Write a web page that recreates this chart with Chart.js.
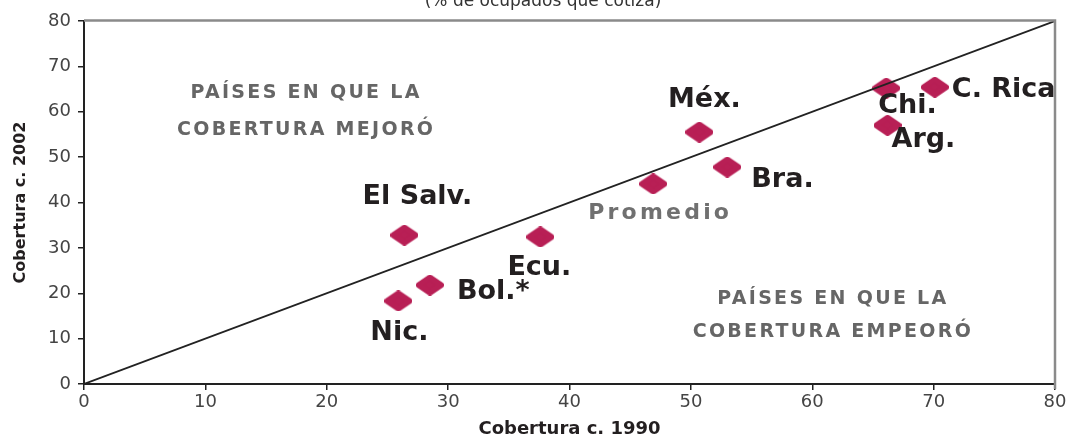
<!DOCTYPE html>
<html><head><meta charset="utf-8">
<script src="https://cdn.jsdelivr.net/npm/chart.js@4.4.1/dist/chart.umd.min.js"></script>
<style>html,body{margin:0;padding:0;background:#fff;}#wrap{width:1072px;height:441px;position:relative;}canvas{display:block;}</style>
</head><body><div id="wrap"><canvas id="c" width="1072" height="441" style="width:1072px;height:441px"></canvas></div>
<script>
// ---- data ----
const countries = ["El Salv.","Ecu.","Bol.*","Nic.","Promedio","Méx.","Bra.","Chi.","C. Rica","Arg."];
const coverage1990 = [26.4, 37.6, 28.5, 25.9, 46.9, 50.7, 53.0, 66.1, 70.1, 66.2];
const coverage2002 = [32.8, 32.4, 21.8, 18.3, 44.1, 55.5, 47.8, 65.2, 65.4, 57.0];
const axisMin = 0, axisMax = 80, axisStep = 10;
const diagonalEnds = [axisMin, axisMax];
const chartTitle = "(% de ocupados que cotiza)";
const xTitle = "Cobertura c. 1990";
const yTitle = "Cobertura c. 2002";
const regionTexts = [["PAÍSES EN QUE LA","COBERTURA MEJORÓ"],["PAÍSES EN QUE LA","COBERTURA EMPEORÓ"]];

// ---- layout / styles ----
const labelOffsets = [[13,-38,'center'],[-1,31,'center'],[27,7,'left'],[1,32,'center'],[-65,29,'left'],[5,-32,'center'],[24,13,'left'],[-8,18,'left'],[17,3,'left'],[4,15,'left']];
const regionAnchors = [[18.3,60.0,37],[61.7,15.1,33]];
const markerColor = '#B81F55';

function makeDiamond(w,h,color){
  const c=document.createElement('canvas'); c.width=w; c.height=h;
  const g=c.getContext('2d');
  g.fillStyle=color; g.strokeStyle=color; g.lineJoin='round'; g.lineWidth=6;
  const cx=w/2, cy=h/2, rx=w/2-3, ry=h/2-3;
  g.beginPath(); g.moveTo(cx,cy-ry); g.lineTo(cx+rx,cy); g.lineTo(cx,cy+ry); g.lineTo(cx-rx,cy); g.closePath();
  g.fill(); g.stroke();
  return c;
}
const diamond = makeDiamond(28,21,markerColor);

const points = coverage1990.map((x,i)=>({x:x,y:coverage2002[i]}));
const diag = diagonalEnds.map(v=>({x:v,y:v}));

const overlay = {
  id:'overlay',
  afterDraw(chart){
    const ctx=chart.ctx, xs=chart.scales.x, ys=chart.scales.y, ca=chart.chartArea;
    ctx.save();
    ctx.strokeStyle='#8a8a8a'; ctx.lineWidth=2.5;
    ctx.beginPath(); ctx.moveTo(ca.left, ca.top-0.5); ctx.lineTo(ca.right, ca.top-0.5); ctx.lineTo(ca.right, ca.bottom+5); ctx.stroke();
    ctx.fillStyle='#333'; ctx.font='17px "DejaVu Sans"'; ctx.textAlign='center'; ctx.textBaseline='alphabetic';
    ctx.fillText(chartTitle, 543, 6);
    ctx.fillStyle='#666'; ctx.font='bold 19px "DejaVu Sans"'; ctx.letterSpacing='2.3px'; ctx.textBaseline='middle';
    regionTexts.forEach((lines,i)=>{
      const [ax,ay,gap]=regionAnchors[i];
      const px=xs.getPixelForValue(ax), py=ys.getPixelForValue(ay);
      lines.forEach((t,j)=>ctx.fillText(t, px, py+(j-0.5)*gap));
    });
    ctx.letterSpacing='0px';
    const meta=chart.getDatasetMeta(1);
    meta.data.forEach((el,i)=>{
      const [dx,dy,al]=labelOffsets[i];
      if(countries[i]==='Promedio'){ ctx.fillStyle='#707070'; ctx.font='bold 22px "DejaVu Sans"'; ctx.letterSpacing='3.2px'; }
      else { ctx.fillStyle='#231f20'; ctx.font='bold 27px "DejaVu Sans"'; ctx.letterSpacing='0px'; }
      ctx.textAlign=al;
      ctx.fillText(countries[i], el.x+dx, el.y+dy);
    });
    ctx.letterSpacing='0px';
    ctx.restore();
  }
};

new Chart(document.getElementById('c'), {
  type:'scatter',
  data:{datasets:[
    {type:'line', data:diag, borderColor:'#222', borderWidth:1.8, pointRadius:0, fill:false, tension:0},
    {data:points, pointStyle:diamond, pointRadius:14, backgroundColor:markerColor, borderColor:markerColor}
  ]},
  options:{
    responsive:false, animation:false, devicePixelRatio:1,
    layout:{padding:{top:21,right:17,left:0,bottom:0}},
    plugins:{legend:{display:false}, tooltip:{enabled:false}},
    scales:{
      x:{type:'linear', min:axisMin, max:axisMax,
        ticks:{stepSize:axisStep, color:'#444', font:{family:'"DejaVu Sans"', size:18}, padding:2, maxRotation:0},
        grid:{drawOnChartArea:false, drawTicks:true, tickLength:6, color:'#222', lineWidth:1.5},
        border:{color:'#222', width:2},
        title:{display:true, text:xTitle, color:'#231f20', font:{family:'"DejaVu Sans"', size:18, weight:'bold'}, padding:{top:0,bottom:1}},
        afterFit(s){ s.height=57; }
      },
      y:{type:'linear', min:axisMin, max:axisMax,
        ticks:{stepSize:axisStep, color:'#444', font:{family:'"DejaVu Sans"', size:18}, padding:7},
        grid:{drawOnChartArea:false, drawTicks:true, tickLength:6, color:'#222', lineWidth:1.5},
        border:{color:'#222', width:2},
        title:{display:true, text:yTitle, color:'#231f20', font:{family:'"DejaVu Sans"', size:16, weight:'bold'}, padding:{top:11,bottom:0}},
        afterFit(s){ s.width=84; }
      }
    }
  },
  plugins:[overlay]
});
</script></body></html>
